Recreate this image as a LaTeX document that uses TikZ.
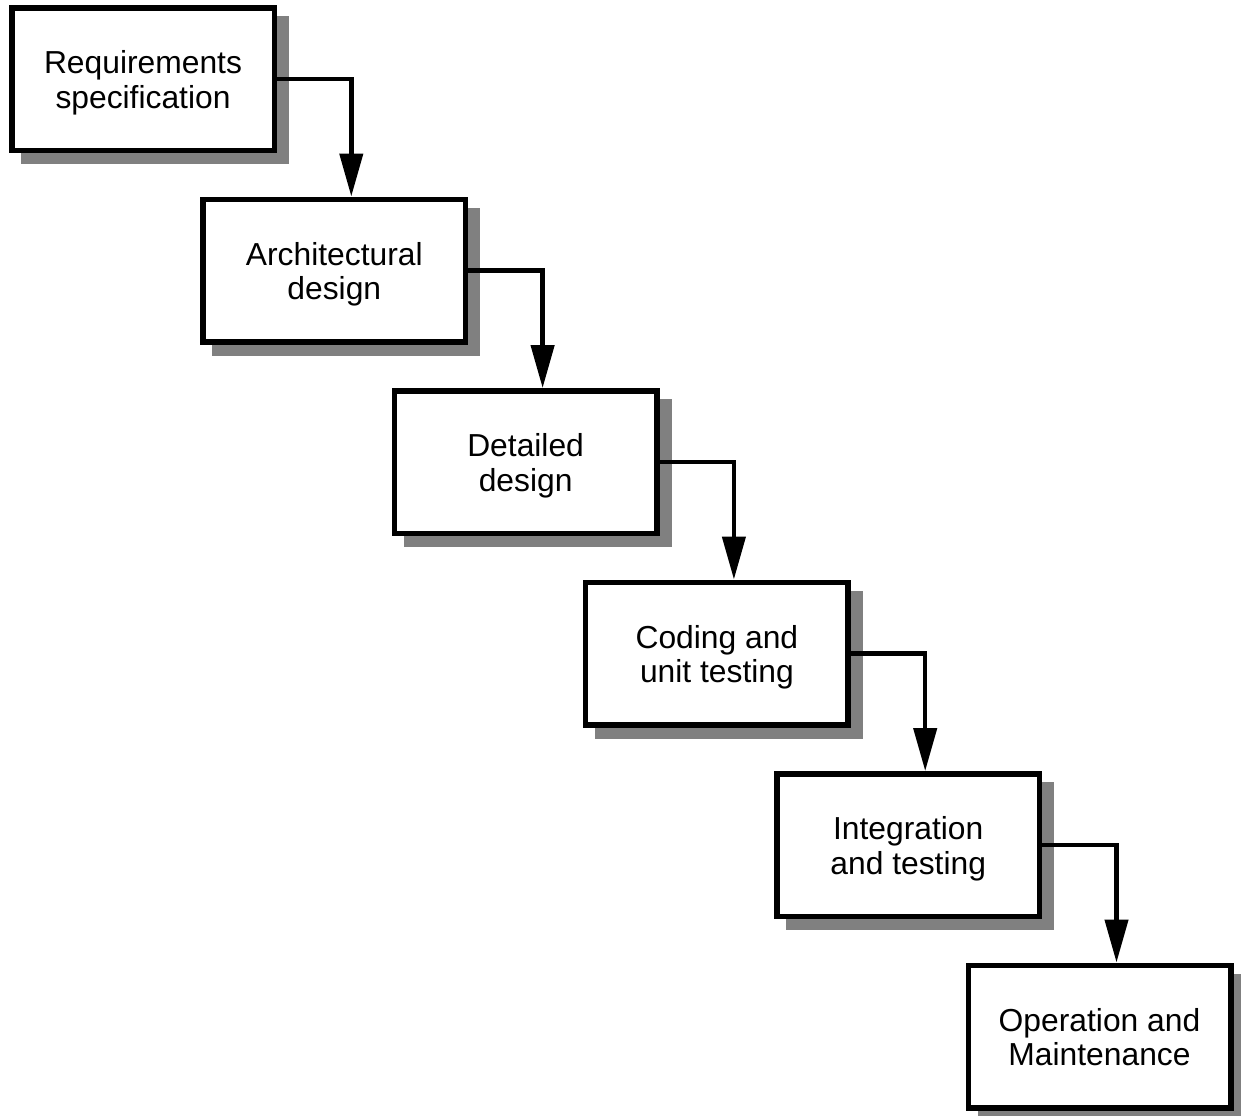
\documentclass[tikz,border=0pt]{standalone}
\usepackage{fontspec}
\setmainfont{Liberation Sans}
\usetikzlibrary{arrows.meta,shadows}

\tikzset{
  stage/.style={draw, line width=2.75pt, fill=white, align=center,
    minimum width=131.25pt, minimum height=71.25pt, inner sep=0pt,
    font=\fontsize{15.9}{17.2}\selectfont,
    drop shadow={shadow xshift=6pt, shadow yshift=-5.5pt, opacity=1,
      fill=black!50, draw=black!50, line width=2.75pt}},
  flow/.style={line width=2.2pt, -{Triangle[length=21.5pt, width=11.5pt]}}
}
% same top and bottom extent for every two-line label
\newcommand{\evenlines}[1]{\rule{0pt}{15.5pt}#1\rule[-3.6pt]{0pt}{0pt}}

\begin{document}
\begin{tikzpicture}[x=0.5pt, y=-0.5pt]
  \useasboundingbox (0,0) rectangle (1241,1115);
  % phases, one step down and right each
  \foreach \n/\i/\txt in {req/0/{Requirements\\specification},
                          arch/1/{Architectural\\design},
                          det/2/{Detailed\\design},
                          code/3/{Coding and\\unit testing},
                          integ/4/{Integration\\and testing},
                          oper/5/{Operation and\\Maintenance}} {
    \node[stage] (\n) at (143+191.3*\i, 79+191.5*\i) {\evenlines{\txt}};
  }
  % hand-over arrows
  \foreach \a/\b in {req/arch, arch/det, det/code, code/integ, integ/oper}
    \draw[flow] (\a.east) -| ([xshift=8.5pt]\b.north);
\end{tikzpicture}
\end{document}
